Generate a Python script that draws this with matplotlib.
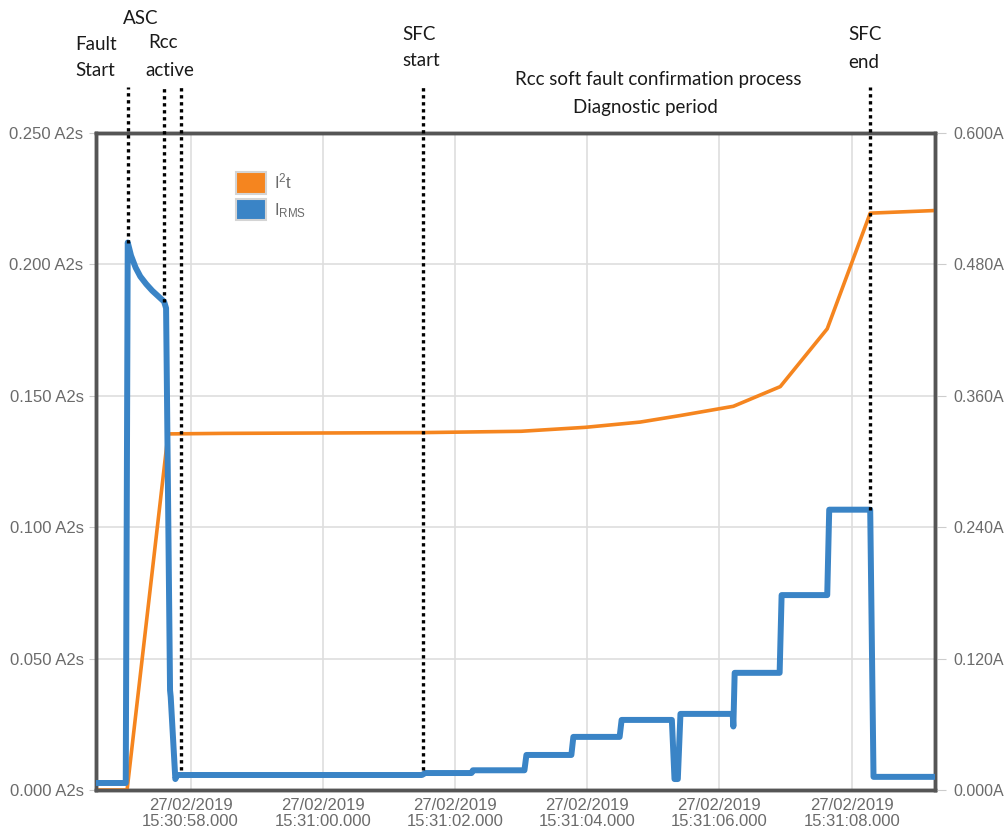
import matplotlib
matplotlib.use("Agg")
import matplotlib.pyplot as plt
from matplotlib.patches import Patch

# ---------------- data (time in seconds after 15:30:00) ----------------
irms_t = [56.57, 57.02, 57.05, 57.10, 57.17, 57.24, 57.33, 57.42, 57.51, 57.60,
          57.63, 57.69, 57.70, 57.77, 57.80, 61.50, 61.55, 62.25, 62.27, 63.05,
          63.08, 63.76, 63.79, 64.49, 64.52, 65.28, 65.32, 65.37, 65.41, 66.20,
          66.21, 66.23, 66.91, 66.94, 67.63, 67.66, 68.28, 68.33, 69.26]
irms_a = [0.0064, 0.0064, 0.500, 0.488, 0.477, 0.469, 0.462, 0.456, 0.451, 0.446,
          0.440, 0.091, 0.085, 0.010, 0.0137, 0.0137, 0.0155, 0.0155, 0.018, 0.018,
          0.032, 0.032, 0.0485, 0.0485, 0.064, 0.064, 0.010, 0.010, 0.0695, 0.0695,
          0.058, 0.107, 0.107, 0.178, 0.178, 0.256, 0.256, 0.012, 0.012]

i2t_t = [56.57, 57.04, 57.66, 58.5, 61.52, 63.0, 63.97, 64.80, 65.41, 66.21,
         66.92, 67.63, 68.28, 69.26]
i2t_v = [0.0, 0.0, 0.1355, 0.1357, 0.136, 0.1365, 0.138, 0.140, 0.1425, 0.146,
         0.1535, 0.1755, 0.2195, 0.2205]

event_t = [57.05, 57.60, 57.856, 61.517, 68.27]
event_end_a = [0.500, 0.446, 0.018, 0.018, 0.256]

xtick_t = [58, 60, 62, 64, 66, 68]
xtick_labels = ["27/02/2019\n15:30:58.000", "27/02/2019\n15:31:00.000",
                "27/02/2019\n15:31:02.000", "27/02/2019\n15:31:04.000",
                "27/02/2019\n15:31:06.000", "27/02/2019\n15:31:08.000"]
left_ticks = [0.0, 0.05, 0.10, 0.15, 0.20, 0.25]
left_labels = ["0.000 A2s", "0.050 A2s", "0.100 A2s", "0.150 A2s", "0.200 A2s", "0.250 A2s"]
right_ticks = [0.0, 0.12, 0.24, 0.36, 0.48, 0.60]
right_labels = ["0.000A", "0.120A", "0.240A", "0.360A", "0.480A", "0.600A"]

series_names = [r"$\mathregular{I^2t}$", r"$\mathregular{I_{RMS}}$"]

# ---------------- styling ----------------
ORANGE = "#f5851f"
BLUE = "#3a84c6"
TICKC = "#6b6b6b"
GRIDC = "#dedede"
SPINEC = "#555555"

W, H = 1007, 835
fig = plt.figure(figsize=(W / 100, H / 100), dpi=100)
L, R, T, B = 96, 935, 133, 790
ax = fig.add_axes([L / W, 1 - B / H, (R - L) / W, (B - T) / H])
ax2 = ax.twinx()

ax.set_xlim(56.57, 69.26)
ax.set_ylim(0, 0.25)
ax2.set_ylim(0, 0.6)

ax.set_xticks(xtick_t)
ax.set_xticklabels(xtick_labels, fontsize=12, color=TICKC, family="Liberation Sans",
                   linespacing=1.05)
ax.set_yticks(left_ticks)
ax.set_yticklabels(left_labels, fontsize=12, color=TICKC, family="Liberation Sans")
ax2.set_yticks(right_ticks)
ax2.set_yticklabels(right_labels, fontsize=11.5, color=TICKC, family="Liberation Sans")

ax.grid(True, color=GRIDC, lw=1.2)
ax.set_axisbelow(True)
ax.tick_params(axis="x", length=0, pad=6)
ax.tick_params(axis="y", length=5, color="#cccccc", pad=4)
ax2.tick_params(axis="y", length=8, color="#cccccc", pad=5)

for a in (ax, ax2):
    for s in a.spines.values():
        s.set_color(SPINEC)
        s.set_linewidth(2.5)

# series
ax.plot(i2t_t, i2t_v, color=ORANGE, lw=2.6, zorder=3)
ax2.plot(irms_t, irms_a, color=BLUE, lw=4.3, zorder=4)

# event dotted lines
top_y = 0.6 * (B - 87) / (B - T)
for t, e in zip(event_t, event_end_a):
    ax2.plot([t, t], [e, top_y], color="black", lw=2.4,
             linestyle=(0, (1, 1.1)), clip_on=False, zorder=6)

# legend
handles = [Patch(facecolor=ORANGE, edgecolor="#d4d4d4", lw=1.5),
           Patch(facecolor=BLUE, edgecolor="#d4d4d4", lw=1.5)]
leg = ax2.legend(handles, series_names, loc="upper left",
                 bbox_to_anchor=((224 - L) / (R - L), (B - 160) / (B - T)),
                 frameon=False, handlelength=1.8, handleheight=1.6,
                 handletextpad=0.5, labelspacing=0.3, borderpad=0.2,
                 prop={"family": "Liberation Sans", "size": 12})
for txt in leg.get_texts():
    txt.set_color(TICKC)

# annotations
AF = dict(family=["Lato", "DejaVu Sans"], fontsize=13.5, color="#1a1a1a")
def ftext(x, y, s, ha="left"):
    fig.text(x / W, 1 - y / H, s, ha=ha, va="center", **AF)

ftext(141, 19, "ASC", ha="center")
ftext(75, 44, "Fault")
ftext(75, 71, "Start")
ftext(148, 43, "Rcc")
ftext(145, 70, "active")
ftext(402, 35, "SFC")
ftext(402, 61, "start")
ftext(848, 35, "SFC")
ftext(848, 63, "end")
ftext(658, 79, "Rcc soft fault confirmation process", ha="center")
ftext(645, 108, "Diagnostic period", ha="center")

fig.savefig("out.png", dpi=100)
